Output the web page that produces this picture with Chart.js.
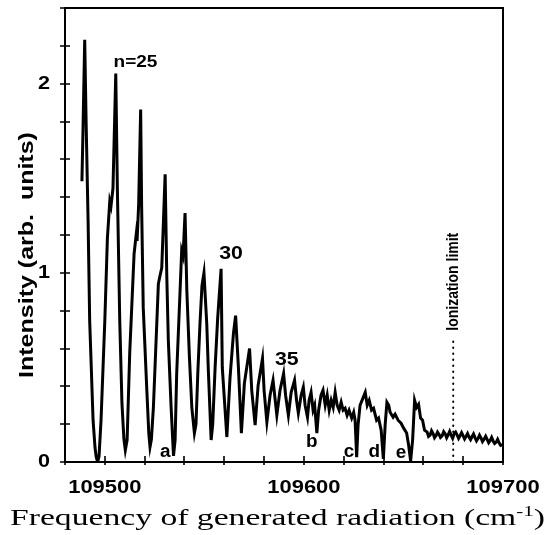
<!DOCTYPE html>
<html lang="en">
<head>
    <meta charset="UTF-8">
    <title>Rydberg series spectrum</title>
    <script src="https://cdn.jsdelivr.net/npm/chart.js"></script>
    <style>
        body, html {
            margin: 0;
            padding: 0;
            background: #fff;
            overflow: hidden;
        }
        canvas { display: block; }
    </style>
</head>
<body>
    <canvas id="spectrum" width="549" height="535"></canvas>

    <script>
        // frequency (cm-1) and intensity (arb. units)
        const freq = [109488.5, 109489.0, 109489.5, 109489.9, 109490.6, 109491.6, 109492.4, 109494.1, 109495.1, 109495.7,
            109496.4, 109497.1, 109498.1, 109500.0, 109501.3, 109502.5, 109503.1, 109504.1, 109505.5, 109506.3, 109507.5,
            109508.6, 109509.6, 109510.3, 109511.2, 109512.5, 109514.7, 109515.8, 109516.2, 109517.0, 109518.0, 109518.5,
            109519.3, 109521.1, 109522.1, 109522.7, 109523.4, 109524.4, 109526.1, 109526.9, 109527.7, 109528.6, 109530.3, 109531.1,
            109531.9, 109533.3, 109534.5, 109535.3, 109536.1, 109537.8, 109538.6, 109539.3, 109540.3, 109541.2,
            109542.5, 109543.7, 109545.0, 109545.8, 109546.7, 109547.8, 109548.8, 109549.8, 109551.2, 109552.0, 109553.4,
            109554.2, 109555.4, 109556.7, 109558.4, 109559.0, 109561.3, 109562.9, 109564.6, 109565.7, 109567.1, 109568.6,
            109570.1, 109572.7, 109573.8, 109575.5, 109577.0, 109579.2, 109580.0, 109581.4, 109583.0, 109584.5,
            109586.4, 109588.0, 109589.8, 109590.8, 109592.2, 109593.6, 109595.3, 109596.3, 109597.2, 109598.6,
            109599.7, 109600.6, 109601.8, 109602.6, 109603.6, 109604.6, 109605.4, 109606.5, 109607.4, 109608.6,
            109609.6, 109610.7, 109611.7, 109612.7, 109613.7, 109614.7, 109615.7, 109616.7, 109617.7, 109618.7,
            109619.7, 109620.7, 109621.7, 109622.7, 109624.0, 109625.0, 109625.7, 109626.5, 109627.2, 109628.2,
            109629.2, 109630.8, 109631.8, 109632.8, 109634.0, 109635.0, 109636.5, 109637.5, 109638.8, 109639.9,
            109640.8, 109641.7, 109642.6, 109643.3, 109644.8, 109645.8, 109647.3, 109648.8, 109650.1, 109651.6,
            109652.6, 109653.6, 109654.6, 109655.6, 109656.6, 109657.6, 109658.6, 109659.6, 109660.6,
            109661.9, 109662.6, 109663.4, 109664.1, 109664.9, 109665.6, 109666.4, 109667.1, 109667.9, 109668.6,
            109669.4, 109670.2, 109671.0, 109671.7, 109672.5, 109673.2, 109674.0, 109674.7, 109675.5, 109676.2,
            109677.0, 109677.7, 109678.5, 109679.2, 109680.0, 109680.7, 109681.5, 109682.2, 109683.0, 109683.7,
            109684.5, 109685.2, 109686.0, 109686.7, 109687.5, 109688.2, 109689.0, 109689.7, 109690.5, 109691.3,
            109692.1, 109692.8, 109693.6, 109694.3, 109695.1, 109695.8, 109696.6, 109697.3, 109698.1, 109698.8,
            109699.6];
        const intensity = [1.484, 1.732, 2.011, 2.232, 1.8, 1.274, 0.747, 0.221, 0.074, 0.025,
            0.0, 0.03, 0.221, 0.747, 1.184, 1.379, 1.353, 1.447, 2.053, 1.447, 0.747,
            0.311, 0.12, 0.063, 0.116, 0.574, 1.1, 1.205, 1.168, 1.363, 1.863, 1.342,
            0.816, 0.379, 0.15, 0.079, 0.12, 0.289, 0.732, 0.942, 0.984, 1.026, 1.521, 0.995,
            0.642, 0.289, 0.032, 0.116, 0.468, 0.905, 1.116, 1.089, 1.316, 0.905,
            0.553, 0.289, 0.153, 0.2, 0.468, 0.732, 0.932, 1.0, 0.732, 0.484, 0.116,
            0.2, 0.5, 0.763, 1.021, 0.5, 0.132, 0.447, 0.679, 0.774, 0.5, 0.153,
            0.416, 0.6, 0.379, 0.195, 0.405, 0.547, 0.379, 0.211, 0.353, 0.432,
            0.247, 0.379, 0.468, 0.353, 0.247, 0.368, 0.432, 0.326, 0.258, 0.353,
            0.395, 0.3, 0.237, 0.326, 0.368, 0.274, 0.3, 0.153, 0.274, 0.353,
            0.379, 0.3, 0.353, 0.274, 0.326, 0.289, 0.368, 0.3, 0.274, 0.316,
            0.274, 0.284, 0.247, 0.274, 0.232, 0.263, 0.221, 0.026, 0.195, 0.3,
            0.326, 0.368, 0.3, 0.326, 0.274, 0.284, 0.221, 0.232, 0.168, 0.016,
            0.195, 0.316, 0.3, 0.263, 0.237, 0.253, 0.221, 0.205, 0.179, 0.153,
            0.089, 0.005, 0.116, 0.326, 0.289, 0.305, 0.232, 0.221, 0.168,
            0.158, 0.135, 0.142, 0.165, 0.15, 0.128, 0.14, 0.158, 0.145, 0.13,
            0.138, 0.16, 0.148, 0.128, 0.145, 0.162, 0.14, 0.125, 0.15, 0.158,
            0.142, 0.125, 0.14, 0.155, 0.138, 0.122, 0.136, 0.15, 0.13, 0.118,
            0.135, 0.148, 0.128, 0.112, 0.125, 0.142, 0.126, 0.108, 0.12, 0.136,
            0.118, 0.102, 0.114, 0.13, 0.11, 0.098, 0.105, 0.12, 0.1, 0.088,
            0.092];

        const xTickLabels = ['109500', '109600', '109700'];
        const yTickLabels = ['0', '1', '2'];
        const ionizationLimit = 109675;

        // series labels: text, frequency, intensity (baseline)
        const peakText = ['n=25', '30', '35'];
        const peakFreq = [109515.4, 109563.4, 109591.4];
        const peakBase = [2.088, 1.074, 0.511];
        const dipText = ['a', 'b', 'c', 'd', 'e'];
        const dipFreq = [109530.3, 109603.9, 109622.7, 109635.3, 109648.8];
        const dipBase = [0.026, 0.079, 0.026, 0.026, 0.021];

        const SANS = '"Liberation Sans", Arial, sans-serif';
        const SERIF = '"Liberation Serif", "Times New Roman", serif';

        function drawText(ctx, s, x, y, font, opts) {
            opts = opts || {};
            ctx.save();
            ctx.translate(x, y);
            ctx.scale(opts.sx || 1, 1);
            if (opts.rot) ctx.rotate(opts.rot);
            ctx.font = font;
            ctx.fillStyle = '#000';
            ctx.textAlign = opts.align || 'center';
            ctx.textBaseline = opts.base || 'middle';
            ctx.fillText(s, 0, 0);
            ctx.restore();
        }

        const decorations = {
            id: 'decorations',
            afterDatasetsDraw(chart) {
                const ctx = chart.ctx;
                const area = chart.chartArea;
                const xs = chart.scales.x, ys = chart.scales.y;

                ctx.save();
                ctx.strokeStyle = '#000';
                ctx.lineWidth = 2;
                ctx.strokeRect(area.left, area.top, area.right - area.left, area.bottom - area.top);

                // tick marks crossing the axes
                ctx.lineWidth = 1.6;
                ctx.beginPath();
                for (let v = xs.min; v <= xs.max + 1e-6; v += 20) {
                    const px = Math.round(xs.getPixelForValue(v));
                    ctx.moveTo(px, area.bottom - 6);
                    ctx.lineTo(px, area.bottom + 3);
                }
                for (let i = 0; i <= 12; i++) {
                    const py = Math.round(ys.getPixelForValue(i * 0.2));
                    ctx.moveTo(area.left - 5, py);
                    ctx.lineTo(area.left + 5, py);
                }
                ctx.stroke();

                // ionization limit
                ctx.lineWidth = 2;
                ctx.lineCap = 'round';
                ctx.setLineDash([0.5, 5.5]);
                ctx.beginPath();
                const lx = xs.getPixelForValue(ionizationLimit);
                ctx.moveTo(lx, ys.getPixelForValue(0));
                ctx.lineTo(lx, ys.getPixelForValue(0.64));
                ctx.stroke();
                ctx.setLineDash([]);
                ctx.restore();

                xTickLabels.forEach(t => {
                    drawText(ctx, t, xs.getPixelForValue(+t), 488, 'bold 18px ' + SANS, { sx: 1.22 });
                });
                yTickLabels.forEach(t => {
                    drawText(ctx, t, 50, ys.getPixelForValue(+t), 'bold 18px ' + SANS, { sx: 1.2, align: 'right' });
                });

                peakText.forEach((t, i) => {
                    const size = i === 0 ? 17 : 19;
                    drawText(ctx, t, xs.getPixelForValue(peakFreq[i]), ys.getPixelForValue(peakBase[i]),
                        'bold ' + size + 'px ' + SANS, { sx: 1.12, base: 'alphabetic' });
                });
                dipText.forEach((t, i) => {
                    drawText(ctx, t, xs.getPixelForValue(dipFreq[i]), ys.getPixelForValue(dipBase[i]),
                        'bold 18px ' + SANS, { sx: 1.05, base: 'alphabetic' });
                });

                drawText(ctx, 'Ionization limit', xs.getPixelForValue(ionizationLimit), ys.getPixelForValue(0.953),
                    'bold 14px ' + SANS, { sx: 1.15, rot: -Math.PI / 2 });

                // axis titles
                drawText(ctx, 'Intensity (arb.  units)', 27, 255, 'bold 25px ' + SANS, { sx: 0.82, rot: -Math.PI / 2 });

                ctx.save();
                const main = 'Frequency of generated radiation (cm';
                ctx.font = '24px ' + SERIF;
                const w1 = ctx.measureText(main).width;
                ctx.font = '15px ' + SERIF;
                const w2 = ctx.measureText('-1').width;
                ctx.font = '24px ' + SERIF;
                const w3 = ctx.measureText(')').width;
                const total = w1 + w2 + w3;
                const sx = 535 / total;
                ctx.translate(277.5, 525);
                ctx.scale(sx, 1);
                ctx.fillStyle = '#000';
                ctx.textBaseline = 'alphabetic';
                ctx.textAlign = 'left';
                let x0 = -total / 2;
                ctx.fillText(main, x0, 0);
                ctx.font = '15px ' + SERIF;
                ctx.fillText('-1', x0 + w1, -9);
                ctx.font = '24px ' + SERIF;
                ctx.fillText(')', x0 + w1 + w2, 0);
                ctx.restore();
            }
        };

        new Chart(document.getElementById('spectrum').getContext('2d'), {
            type: 'line',
            data: {
                datasets: [{
                    label: 'Intensity',
                    data: freq.map((f, i) => ({ x: f, y: intensity[i] })),
                    borderColor: '#000',
                    borderWidth: 3,
                    pointRadius: 0,
                    tension: 0
                }]
            },
            options: {
                responsive: false,
                animation: false,
                devicePixelRatio: 1,
                layout: { padding: { left: 65, right: 46, top: 8, bottom: 73 } },
                scales: {
                    x: { type: 'linear', min: 109480, max: 109700, display: false },
                    y: { min: 0, max: 2.4, display: false }
                },
                plugins: {
                    legend: { display: false },
                    tooltip: { enabled: false }
                }
            },
            plugins: [decorations]
        });
    </script>
</body>
</html>
